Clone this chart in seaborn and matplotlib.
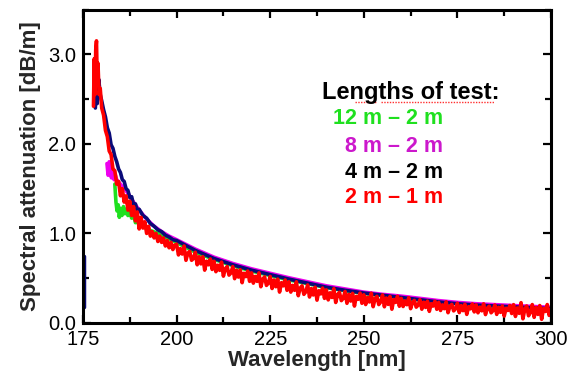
import matplotlib
matplotlib.use("Agg")
import matplotlib.pyplot as plt
import seaborn as sns
import pandas as pd
from matplotlib.ticker import MultipleLocator
from matplotlib.lines import Line2D

# ---- data ----
green_wl = [183.5, 183.8, 184.1, 184.4, 184.7, 185.0, 185.4, 185.8, 186.2, 186.6, 187.0, 187.5,
            188.0, 188.5, 189.0, 189.5, 190.0, 191, 192, 195, 200, 205, 210, 215, 220, 225, 230,
            235, 240, 245, 250, 260, 270, 280, 290, 300]
green_val = [1.55, 1.35, 1.25, 1.32, 1.18, 1.28, 1.20, 1.30, 1.22, 1.27, 1.20, 1.24,
             1.17, 1.22, 1.12, 1.16, 1.08, 1.10, 1.05, 1.00, 0.90, 0.79, 0.71, 0.64, 0.58, 0.53, 0.48,
             0.44, 0.395, 0.36, 0.33, 0.28, 0.235, 0.20, 0.18, 0.165]

magenta_wl = [181.4, 181.7, 182.0, 182.3, 182.6, 183.0, 183.3, 183.6, 184, 185, 186, 187, 188, 190,
              192, 194, 196, 198, 200, 205, 210, 215, 220, 225, 230, 235, 240, 245, 250, 255, 260,
              265, 270, 275, 280, 285, 290, 295, 300]
magenta_val = [1.78, 1.65, 1.80, 1.70, 1.62, 1.72, 1.60, 1.66, 1.60, 1.55, 1.50, 1.45, 1.38, 1.26,
               1.16, 1.08, 1.02, 0.97, 0.93, 0.825, 0.735, 0.665, 0.605, 0.555, 0.505, 0.46, 0.415,
               0.38, 0.345, 0.32, 0.30, 0.275, 0.25, 0.23, 0.215, 0.205, 0.195, 0.185, 0.175]

navy_wl = [178.3, 178.5, 178.8, 179.2, 179.6, 180, 180.5, 181, 181.5, 182, 182.5, 183, 183.5, 184,
           184.5, 185, 185.5, 186, 186.5, 187, 187.5, 188, 188.5, 189, 189.5, 190, 191, 192, 193,
           194, 195, 196, 197, 198, 199,
           200, 205, 210, 215, 220, 225, 230, 235, 240, 245, 250, 255, 260, 265, 270, 275, 280,
           285, 290, 295, 300]
navy_val = [2.40, 2.75, 2.45, 2.72, 2.55, 2.48, 2.38, 2.30, 2.18, 2.12, 1.99, 1.95, 1.86, 1.80,
            1.72, 1.68, 1.60, 1.58, 1.50, 1.48, 1.40, 1.41, 1.32, 1.33, 1.25, 1.27, 1.20, 1.17, 1.11,
            1.08, 1.04, 1.02, 0.98, 0.96, 0.93,
            0.92, 0.81, 0.72, 0.65, 0.59, 0.54, 0.49, 0.445, 0.40, 0.365, 0.335, 0.31,
            0.285, 0.26, 0.235, 0.215, 0.20, 0.19, 0.18, 0.17, 0.16]
navy_edge_wl = [175.2, 175.2]
navy_edge_val = [0.18, 0.75]

red_wl = [177.8, 178.0, 178.2, 178.4, 178.6, 178.8, 179.0, 179.3, 179.6, 180.0, 180.5, 181.0,
          181.5, 182.0, 182.5, 183.0, 183.5, 184.0, 184.5, 185.0, 185.5, 186.0, 186.5, 187.0,
          187.5, 188.0, 188.5, 189.0, 189.5, 190.0, 190.5, 191.0, 191.5, 192.0, 192.5,
          193.0, 193.5, 194.0, 194.5, 195.0, 195.5, 196.0, 196.5, 197.0, 197.5,
          198.0, 198.5, 199.0, 199.5,
          200.0, 200.5, 201.0, 201.5, 202.0, 202.5, 203.0, 203.5, 204.0, 204.5,
          205.0, 205.5, 206.0, 206.5, 207.0, 207.5, 208.0, 208.5, 209.0, 209.5,
          210.0, 210.5, 211.0, 211.5, 212.0, 212.5, 213.0, 213.5, 214.0, 214.5,
          215.0, 215.5, 216.0, 216.5, 217.0, 217.5, 218.0, 218.5, 219.0, 219.5,
          220.0, 220.5, 221.0, 221.5, 222.0, 222.5, 223.0, 223.5, 224.0, 224.5,
          225.0, 225.5, 226.0, 226.5, 227.0, 227.5, 228.0, 228.5, 229.0, 229.5,
          230.0, 230.5, 231.0, 231.5, 232.0, 232.5, 233.0, 233.5, 234.0, 234.5,
          235.0, 235.5, 236.0, 236.5, 237.0, 237.5, 238.0, 238.5, 239.0, 239.5,
          240.0, 240.5, 241.0, 241.5, 242.0, 242.5, 243.0, 243.5, 244.0, 244.5,
          245.0, 245.5, 246.0, 246.5, 247.0, 247.5, 248.0, 248.5, 249.0, 249.5,
          250.0, 250.5, 251.0, 251.5, 252.0, 252.5, 253.0, 253.5, 254.0, 254.5,
          255.0, 255.5, 256.0, 256.5, 257.0, 257.5, 258.0, 258.5, 259.0, 259.5,
          260.0, 260.5, 261.0, 261.5, 262.0, 262.5, 263.0, 263.5, 264.0, 264.5,
          265.0, 265.5, 266.0, 266.5, 267.0, 267.5, 268.0, 268.5, 269.0, 269.5,
          270.0, 270.5, 271.0, 271.5, 272.0, 272.5, 273.0, 273.5, 274.0, 274.5,
          275.0, 275.5, 276.0, 276.5, 277.0, 277.5, 278.0, 278.5, 279.0, 279.5,
          280.0, 280.5, 281.0, 281.5, 282.0, 282.5, 283.0, 283.5, 284.0, 284.5,
          285.0, 285.5, 286.0, 286.5, 287.0, 287.5, 288.0, 288.5, 289.0, 289.5,
          290.0, 290.5, 291.0, 291.5, 292.0, 292.5, 293.0, 293.5, 294.0, 294.5,
          295.0, 295.5, 296.0, 296.5, 297.0, 297.5, 298.0, 298.5, 299.0, 299.5, 300.0]
red_val = [2.42, 2.95, 2.55, 3.05, 3.15, 2.70, 2.90, 2.55, 2.62, 2.40, 2.32, 2.15,
           2.08, 1.92, 1.88, 1.72, 1.70, 1.55, 1.58, 1.42, 1.50, 1.35, 1.42, 1.26,
           1.36, 1.20, 1.30, 1.14, 1.24, 1.05, 1.18, 1.06, 1.13, 1.00, 1.08,
           0.97, 1.02, 0.95, 1.00, 0.91, 0.97, 0.90, 0.95, 0.86, 0.92,
           0.84, 0.90, 0.82, 0.87,
           0.88, 0.76, 0.83, 0.77, 0.86, 0.70, 0.78, 0.80, 0.70, 0.72,
           0.79, 0.65, 0.74, 0.66, 0.74, 0.59, 0.69, 0.65, 0.715, 0.598,
           0.69, 0.573, 0.645, 0.588, 0.68, 0.523, 0.605, 0.63, 0.535, 0.558,
           0.63, 0.495, 0.59, 0.513, 0.595, 0.45, 0.555, 0.518, 0.58, 0.465,
           0.56, 0.445, 0.52, 0.465, 0.56, 0.405, 0.49, 0.515, 0.42, 0.445,
           0.52, 0.385, 0.48, 0.405, 0.49, 0.345, 0.45, 0.415, 0.48, 0.365,
           0.46, 0.345, 0.42, 0.365, 0.46, 0.305, 0.39, 0.415, 0.32, 0.348,
           0.425, 0.29, 0.385, 0.313, 0.40, 0.255, 0.36, 0.325, 0.39, 0.275,
           0.37, 0.258, 0.337, 0.285, 0.383, 0.229, 0.315, 0.343, 0.25, 0.276,
           0.352, 0.22, 0.319, 0.245, 0.331, 0.189, 0.297, 0.265, 0.334, 0.22,
           0.315, 0.206, 0.287, 0.235, 0.333, 0.182, 0.27, 0.298, 0.206, 0.234,
           0.313, 0.181, 0.279, 0.208, 0.296, 0.154, 0.262, 0.23, 0.299, 0.187,
           0.275, 0.184, 0.246, 0.204, 0.282, 0.16, 0.23, 0.252, 0.177, 0.199,
           0.26, 0.154, 0.232, 0.174, 0.244, 0.13, 0.215, 0.189, 0.243, 0.153,
           0.23, 0.14, 0.202, 0.16, 0.237, 0.115, 0.185, 0.208, 0.135, 0.158,
           0.221, 0.116, 0.194, 0.138, 0.209, 0.096, 0.182, 0.158, 0.213, 0.124,
           0.202, 0.114, 0.177, 0.136, 0.214, 0.094, 0.165, 0.188, 0.114, 0.138,
           0.201, 0.096, 0.175, 0.119, 0.19, 0.077, 0.164, 0.14, 0.195, 0.106,
           0.205, 0.073, 0.168, 0.108, 0.227, 0.047, 0.154, 0.19, 0.081, 0.117,
           0.206, 0.063, 0.173, 0.096, 0.195, 0.041, 0.162, 0.129, 0.206, 0.085, 0.15]

legend_title = "Lengths of test:"
legend_labels = ["12 m \u2013 2 m", "8 m \u2013 2 m", "4 m \u2013 2 m", "2 m \u2013 1 m"]
x_ticks = [175, 200, 225, 250, 275, 300]
y_ticks = [0.0, 1.0, 2.0, 3.0]

# ---- styling ----
sns.set_theme(style="ticks")
plt.rcParams["font.family"] = ["Liberation Sans", "DejaVu Sans"]

c_green = "#1fe01f"
c_mag = "#ee00ee"
c_navy = "#0a0a78"
c_red = "#ff0000"

df = pd.concat([
    pd.DataFrame({"wl": green_wl, "val": green_val, "s": "g"}),
    pd.DataFrame({"wl": magenta_wl, "val": magenta_val, "s": "m"}),
    pd.DataFrame({"wl": navy_wl, "val": navy_val, "s": "n"}),
    pd.DataFrame({"wl": red_wl, "val": red_val, "s": "r"}),
], ignore_index=True)

fig = plt.figure(figsize=(5.71, 3.77), dpi=100)
ax = fig.add_axes([83 / 571, 1 - 323 / 377, (551 - 83) / 571, (323 - 9.5) / 377])

sns.lineplot(data=df, x="wl", y="val", hue="s", hue_order=["g", "m", "n", "r"],
             palette={"g": c_green, "m": c_mag, "n": c_navy, "r": c_red},
             estimator=None, sort=False, linewidth=2.6, legend=False, ax=ax)
sns.lineplot(x=navy_edge_wl, y=navy_edge_val, color=c_navy, linewidth=2.5,
             estimator=None, sort=False, ax=ax)

ax.set_xlim(175, 300)
ax.set_ylim(0, 3.5)
ax.set_xticks(x_ticks)
ax.set_xticklabels([str(t) for t in x_ticks])
ax.set_yticks(y_ticks)
ax.set_yticklabels([f"{t:.1f}" for t in y_ticks])
ax.xaxis.set_minor_locator(MultipleLocator(12.5))
ax.yaxis.set_minor_locator(MultipleLocator(0.5))
ax.tick_params(which="both", direction="in", top=True, right=True, width=1.6,
               labelsize=14.5, colors="black")
ax.tick_params(axis="x", pad=5)
ax.tick_params(axis="y", pad=5)
ax.tick_params(which="major", length=6)
ax.tick_params(which="minor", length=4)
for sp in ax.spines.values():
    sp.set_visible(True)
    sp.set_linewidth(2.2)
    sp.set_color("black")

ax.set_xlabel("Wavelength [nm]", fontsize=16, fontweight="bold", labelpad=1)
ax.set_ylabel("Spectral attenuation [dB/m]", fontsize=16, fontweight="bold", labelpad=5)

# legend-like text block
fig.text(411 / 571, 1 - 93 / 377, legend_title, ha="center", va="center",
         fontsize=17, fontweight="bold", color="black")
leg_colors = [c_green, "#cc18cc", "black", c_red]
leg_y = [119, 146, 172, 198]
for lab, col, yy in zip(legend_labels, leg_colors, leg_y):
    fig.text(443 / 571, 1 - yy / 377, lab, ha="right", va="center",
             fontsize=15.5, fontweight="bold", color=col)
# spell-check style underline beneath "of test:"
for x0, x1 in [(355, 376), (381, 494)]:
    fig.add_artist(Line2D([x0 / 571, x1 / 571], [1 - 102 / 377, 1 - 102 / 377],
                          color="#ff3030", linewidth=1.0, linestyle=(0, (1, 1))))

fig.savefig("out.png", dpi=100)
